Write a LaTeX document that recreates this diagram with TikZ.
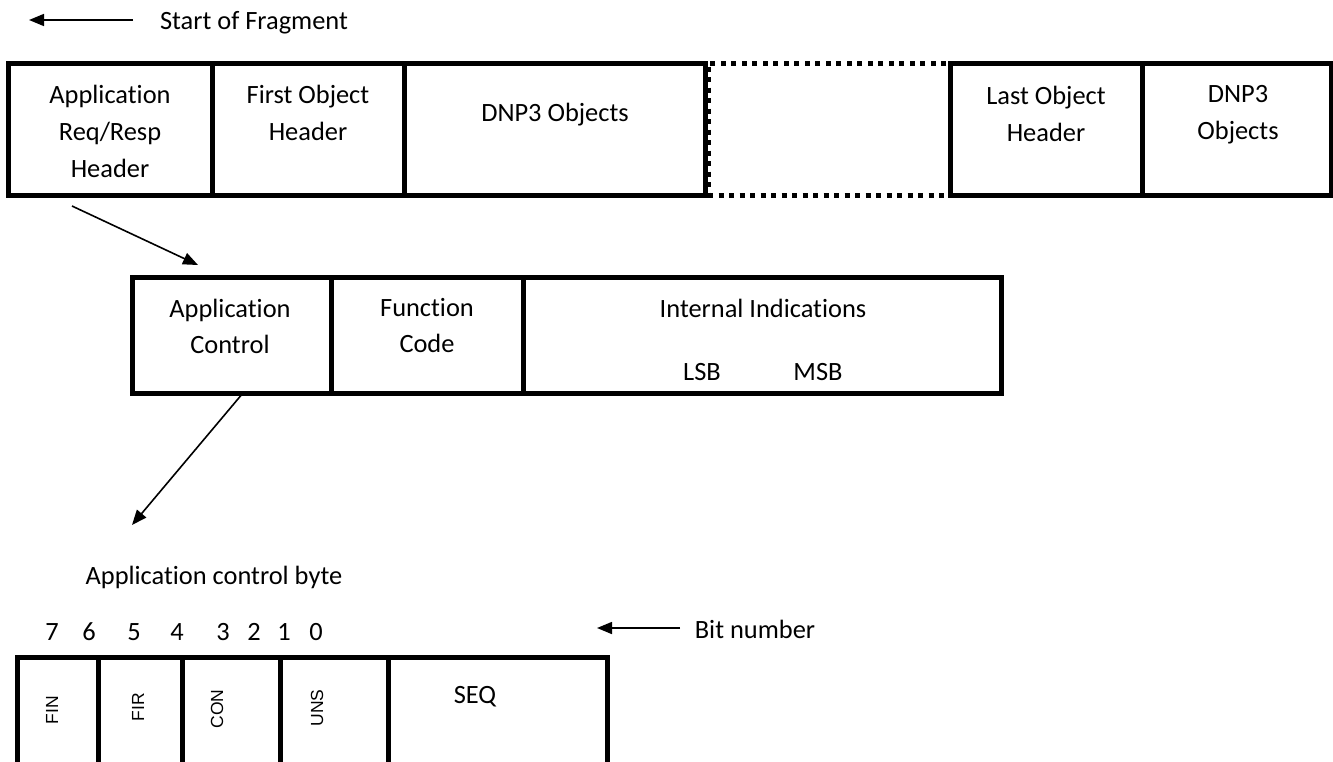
\documentclass[tikz,border=0pt]{standalone}
\usepackage{fontspec}
\setmainfont{Carlito}[Ligatures=NoCommon]
\newfontfamily\bitfont{Liberation Sans}
\usetikzlibrary{arrows.meta}
\begin{document}
\begin{tikzpicture}[x=1pt,y=-1pt,
  cell/.style={draw, line width=5pt, rectangle, inner sep=0pt, outer sep=0pt, anchor=north west},
  gapcell/.style={cell, dash pattern=on 5pt off 5.5pt},
  lbl/.style={font=\fontsize{26.4}{37}\selectfont, align=center, inner sep=0pt},
  lblm/.style={font=\fontsize{26.4}{36}\selectfont, align=center, inner sep=0pt},
  bitlbl/.style={font=\bitfont\fontsize{17.5}{20}\selectfont, rotate=90, inner sep=0pt},
  arr/.style={-{Triangle[length=15pt,width=12pt]}, line width=1.6pt}]
\clip (0,0) rectangle (1333,761);
% top row
\node[cell, minimum width=204pt, minimum height=132pt] (h1) at (8,63) {};
\node[cell, minimum width=192pt, minimum height=132pt] (h2) at (212,63) {};
\node[cell, minimum width=301pt, minimum height=132pt] (h3) at (404,63) {};
\node[gapcell, minimum width=242pt, minimum height=132pt] (gap) at (708,63) {};
\node[cell, minimum width=192pt, minimum height=132pt] (h4) at (950,63) {};
\node[cell, minimum width=189pt, minimum height=132pt] (h5) at (1142,63) {};
\node[lbl] (t1) at (110,131) {Application\\Req/Resp\\Header};
\node[lbl] (t2) at (308,113) {First Object\\Header};
\node[lbl] (t3) at (555,115) {DNP3 Objects};
\node[lbl] (t4) at (1046,114) {Last Object\\Header};
\node[lbl] (t5) at (1238,115) {DNP3\\Objects};
% start of fragment
\node[lbl] (sof) at (254,23) {Start of Fragment};
\coordinate (sofa) at (133,20);
\coordinate (sofb) at (29,20);
\draw[arr] (sofa) -- (sofb);
% middle row
\node[cell, minimum width=199pt, minimum height=116pt] (m1) at (132,277) {};
\node[cell, minimum width=192pt, minimum height=116pt] (m2) at (331,277) {};
\node[cell, minimum width=478pt, minimum height=116pt] (m3) at (523,277) {};
\node[lblm] (u1) at (230,326) {Application\\Control};
\node[lblm] (u2) at (427,326) {Function\\Code};
\node[lbl] (u3) at (763,308) {Internal Indications};
\node[lbl] (lsb) at (702,372) {LSB};
\node[lbl] (msb) at (818,372) {MSB};
% arrows between rows
\coordinate (a1s) at (72,206);
\coordinate (a1e) at (198,265);
\draw[arr] (a1s) -- (a1e);
\coordinate (a2s) at (243,393);
\coordinate (a2e) at (132,525);
\draw[arr] (a2s) -- (a2e);
% bottom section
\node[lbl] (acb) at (214,577) {Application control byte};
\foreach \n/\x in {7/52,6/89,5/134,4/177,3/223,2/254,1/284,0/316}
  \node[lbl] (d\n) at (\x,632) {\n};
\node[lbl] (bitn) at (755,629) {Bit number};
\coordinate (bna) at (680,628);
\coordinate (bnb) at (597,628);
\draw[arr] (bna) -- (bnb);
\node[cell, minimum width=81pt, minimum height=130pt] (b1) at (17,657) {};
\node[cell, minimum width=84pt, minimum height=130pt] (b2) at (98,657) {};
\node[cell, minimum width=98pt, minimum height=130pt] (b3) at (182,657) {};
\node[cell, minimum width=108pt, minimum height=130pt] (b4) at (280,657) {};
\node[cell, minimum width=219pt, minimum height=130pt] (b5) at (388,657) {};
\node[bitlbl] (fin) at (52,710) {FIN};
\node[bitlbl] (fir) at (138,707) {FIR};
\node[bitlbl] (con) at (217,709) {CON};
\node[bitlbl] (uns) at (317,708) {UNS};
\node[lbl] (seq) at (475,697) {SEQ};
\end{tikzpicture}
\end{document}
